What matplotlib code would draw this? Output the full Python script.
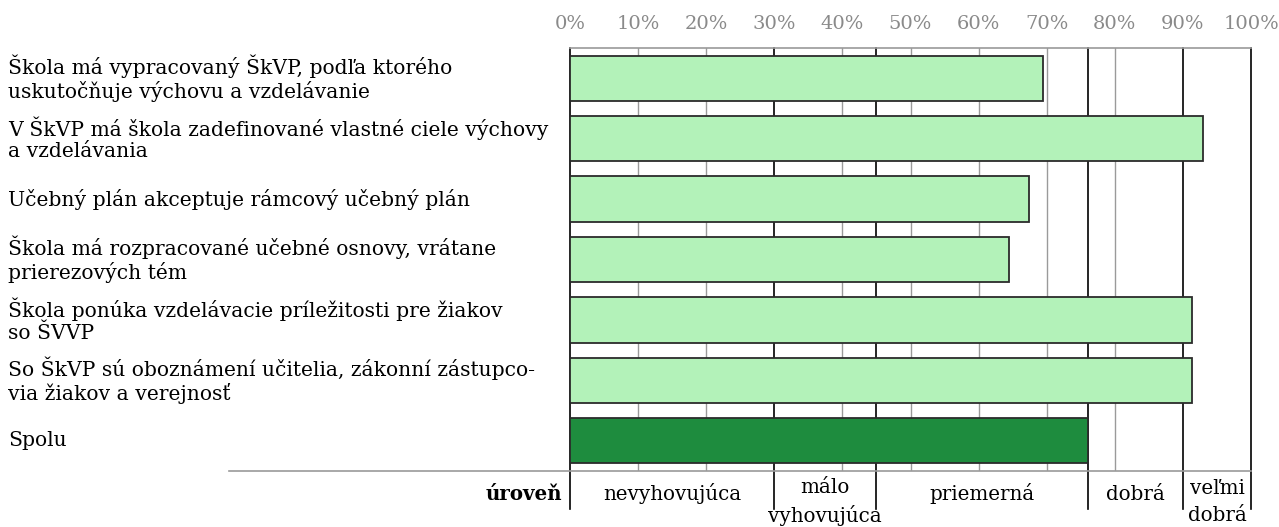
import matplotlib
matplotlib.use("Agg")
import matplotlib.pyplot as plt
from matplotlib import transforms

# ---- data ----
categories = [
    "Škola má vypracovaný ŠkVP, podľa ktorého\nuskutočňuje výchovu a vzdelávanie",
    "V ŠkVP má škola zadefinované vlastné ciele výchovy\na vzdelávania",
    "Učebný plán akceptuje rámcový učebný plán",
    "Škola má rozpracované učebné osnovy, vrátane\nprierezových tém",
    "Škola ponúka vzdelávacie príležitosti pre žiakov\nso ŠVVP",
    "So ŠkVP sú oboznámení učitelia, zákonní zástupco-\nvia žiakov a verejnosť",
    "Spolu",
]
values = [69.4, 93.0, 67.4, 64.5, 91.4, 91.4, 76.0]
is_total = [False, False, False, False, False, False, True]
tick_values = [0, 10, 20, 30, 40, 50, 60, 70, 80, 90, 100]
tick_labels = [f"{v}%" for v in tick_values]
level_bounds = [0, 30, 45, 76, 90, 100]
level_names = ["nevyhovujúca", "málo\nvyhovujúca", "priemerná", "dobrá", "veľmi\ndobrá"]
level_title = "úroveň"

# ---- styling ----
W, H = 1279, 527
DPI = 100
FONT = ["DejaVu Serif"]
plt.rcParams["font.family"] = FONT
light = "#b3f2b9"
dark = "#1e8c3e"
edge = "#2b2b2b"
grid_gray = "#9a9a9a"

fig = plt.figure(figsize=(W / DPI, H / DPI), dpi=DPI)
x0, x1 = 570, 1251
y_top, y_bot = 48, 471
ax = fig.add_axes([x0 / W, 1 - y_bot / H, (x1 - x0) / W, (y_bot - y_top) / H])
ax.set_xlim(0, 100)
n = len(categories)
ax.set_ylim(n - 0.5, -0.5)
for s in ax.spines.values():
    s.set_visible(False)

# gridlines
for v in tick_values:
    if v not in level_bounds:
        ax.axvline(v, color=grid_gray, lw=1.0, zorder=0)

# level boundaries (extend below axes)
below = -(509 - y_bot) / (y_bot - y_top)
bt = transforms.blended_transform_factory(ax.transData, ax.transAxes)
for v in level_bounds:
    ax.plot([v, v], [1, below], color="black", lw=1.2, transform=bt,
            clip_on=False, zorder=1)

# top and bottom horizontal lines
ax.plot([0, 100], [1, 1], color=grid_gray, lw=1.2, transform=bt, clip_on=False, zorder=1)
ft = transforms.blended_transform_factory(fig.transFigure, ax.transAxes)
ax.plot([229 / W, x1 / W], [0, 0], color=grid_gray, lw=1.2, transform=ft,
        clip_on=False, zorder=1)

# bars
colors = [dark if t else light for t in is_total]
ax.barh(range(n), values, height=0.75, color=colors, edgecolor=edge,
        linewidth=1.3, zorder=3)

# x tick labels on top
ax.xaxis.tick_top()
ax.set_xticks(tick_values)
ax.set_xticklabels(tick_labels, color="#8a8a8a", fontsize=14)
ax.tick_params(axis="x", length=0, pad=11)
ax.set_yticks([])

# category labels
lt = transforms.blended_transform_factory(fig.transFigure, ax.transData)
for i, c in enumerate(categories):
    ax.text(8 / W, i, c, transform=lt, ha="left", va="center",
            fontsize=14.6, linespacing=1.16, clip_on=False)

# level labels
for k, name in enumerate(level_names):
    cx = (level_bounds[k] + level_bounds[k + 1]) / 2
    ypx = 502 if "\n" in name else 494
    ax.text(cx, 1 - ypx / H, name,
            transform=transforms.blended_transform_factory(ax.transData, fig.transFigure),
            ha="center", va="center", fontsize=14.3, linespacing=1.5)
fig.text(562 / W, 1 - 494 / H, level_title, ha="right", va="center",
         fontsize=14.3, fontweight="bold")

fig.savefig("out.png", dpi=DPI)
